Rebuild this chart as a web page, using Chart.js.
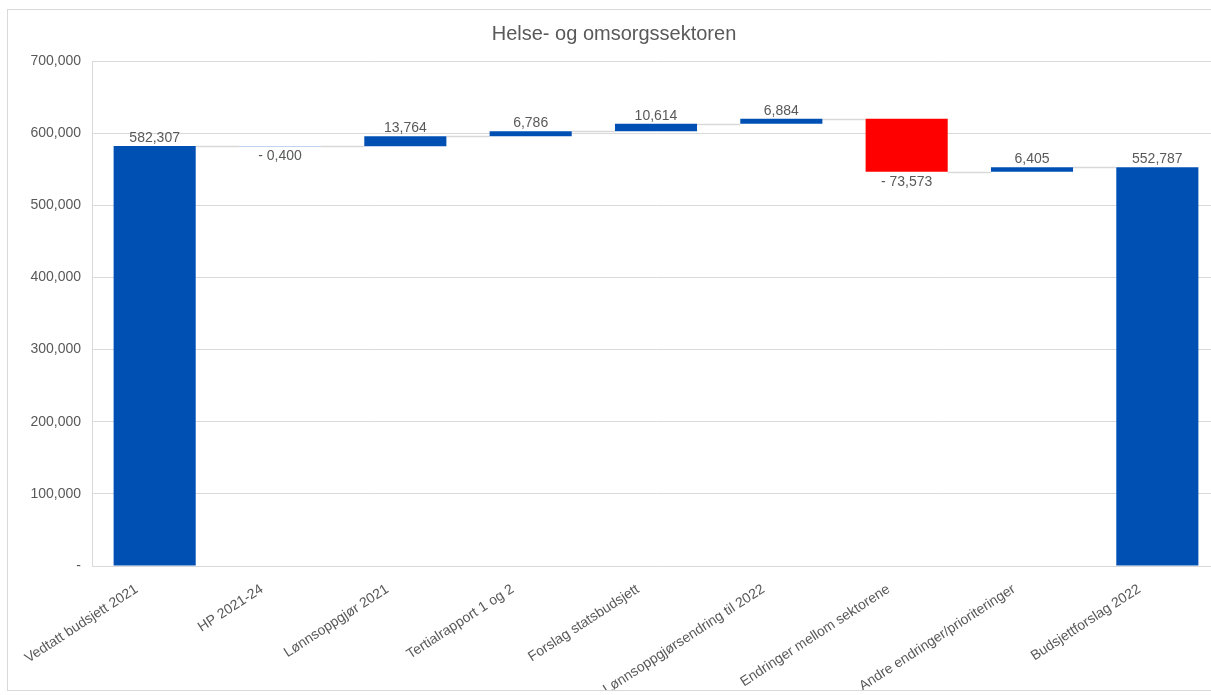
<!DOCTYPE html>
<html>
<head>
<meta charset="utf-8">
<script src="https://cdn.jsdelivr.net/npm/chart.js"></script>
<style>
  html, body { margin: 0; padding: 0; background: #fff; overflow: hidden; }
  #wrap {
    position: absolute; left: 7px; top: 9px;
    width: 1230px; height: 680px;
    border: 1px solid #d9d9d9; background: #fff;
  }
</style>
</head>
<body>
<div id="wrap"><canvas id="chart"></canvas></div>
<script>
const categories = [
  "Vedtatt budsjett 2021",
  "HP 2021-24",
  "Lønnsoppgjør 2021",
  "Tertialrapport 1 og 2",
  "Forslag statsbudsjett",
  "Lønnsoppgjørsendring til 2022",
  "Endringer mellom sektorene",
  "Andre endringer/prioriteringer",
  "Budsjettforslag 2022"
];
const values = [582307, -400, 13764, 6786, 10614, 6884, -73573, 6405, 552787];
const isTotal = [true, false, false, false, false, false, false, false, true];
const yTicks = [0, 100000, 200000, 300000, 400000, 500000, 600000, 700000];

const BLUE = "#0050b4";
const RED = "#ff0000";
const TEXT = "#595959";
const GRID = "#d9d9d9";
const FONT = "'Liberation Sans', Arial, sans-serif";

// floating bars [start, end] from running total
const floating = [];
const ends = [];
let running = 0;
values.forEach((v, i) => {
  if (isTotal[i]) {
    floating.push([0, v]);
    running = v;
  } else {
    floating.push([running, running + v]);
    running += v;
  }
  ends.push(running);
});

function fmt(v) {
  const a = Math.abs(v);
  const s = a >= 1000 ? a.toLocaleString("en-US") : "0," + String(a).padStart(3, "0");
  return v < 0 ? "- " + s : s;
}

const connectors = {
  id: "connectors",
  beforeDatasetsDraw(chart) {
    const ctx = chart.ctx;
    const y = chart.scales.y;
    const bars = chart.getDatasetMeta(0).data;
    ctx.save();
    ctx.strokeStyle = GRID;
    ctx.lineWidth = 1.5;
    for (let i = 0; i < bars.length - 1; i++) {
      const a = bars[i], b = bars[i + 1];
      const py = Math.round(y.getPixelForValue(ends[i])) + 0.5;
      ctx.beginPath();
      ctx.moveTo(a.x + a.width / 2, py);
      ctx.lineTo(b.x - b.width / 2, py);
      ctx.stroke();
    }
    ctx.restore();
  }
};

const valueLabels = {
  id: "valueLabels",
  afterDatasetsDraw(chart) {
    const ctx = chart.ctx;
    const bars = chart.getDatasetMeta(0).data;
    ctx.save();
    ctx.font = "14px " + FONT;
    ctx.fillStyle = TEXT;
    ctx.textAlign = "center";
    bars.forEach((bar, i) => {
      const top = Math.min(bar.y, bar.base);
      const bottom = Math.max(bar.y, bar.base);
      if (values[i] < 0) {
        ctx.textBaseline = "top";
        ctx.fillText(fmt(values[i]), bar.x, bottom + 3);
      } else {
        ctx.textBaseline = "bottom";
        ctx.fillText(fmt(values[i]), bar.x, top - 1);
      }
    });
    ctx.restore();
  }
};

new Chart(document.getElementById("chart"), {
  type: "bar",
  data: {
    labels: categories,
    datasets: [{
      data: floating,
      backgroundColor: values.map((v, i) => (!isTotal[i] && v < -1000 ? RED : BLUE)),
      borderWidth: 0,
      barPercentage: 1,
      categoryPercentage: 0.655,
      borderSkipped: false
    }]
  },
  options: {
    responsive: true,
    maintainAspectRatio: false,
    animation: false,
    layout: { padding: { left: 0, right: 18, top: 0, bottom: 0 } },
    plugins: {
      legend: { display: false },
      tooltip: { enabled: false },
      title: {
        display: true,
        text: "Helse- og omsorgssektoren",
        color: TEXT,
        font: { family: FONT, size: 20, weight: "normal" },
        padding: { top: 12, bottom: 15 }
      }
    },
    scales: {
      x: {
        grid: { display: false, drawTicks: false },
        border: { display: true, color: GRID, width: 1 },
        ticks: {
          color: TEXT,
          font: { family: FONT, size: 14 },
          minRotation: 33,
          maxRotation: 33,
          autoSkip: false,
          padding: 15,
          labelOffset: -18
        },
        afterFit(scale) { scale.height = 124; }
      },
      y: {
        min: 0,
        max: 700000,
        grid: { color: GRID, lineWidth: 1, drawTicks: false },
        border: { display: true, color: GRID, width: 1 },
        afterBuildTicks(scale) {
          scale.ticks = yTicks.map(v => ({ value: v }));
        },
        ticks: {
          color: TEXT,
          font: { family: FONT, size: 14 },
          padding: 11,
          callback: v => (v === 0 ? "-" : v.toLocaleString("en-US"))
        },
        afterFit(scale) { scale.width = 84; }
      }
    }
  },
  plugins: [connectors, valueLabels]
});
</script>
</body>
</html>
